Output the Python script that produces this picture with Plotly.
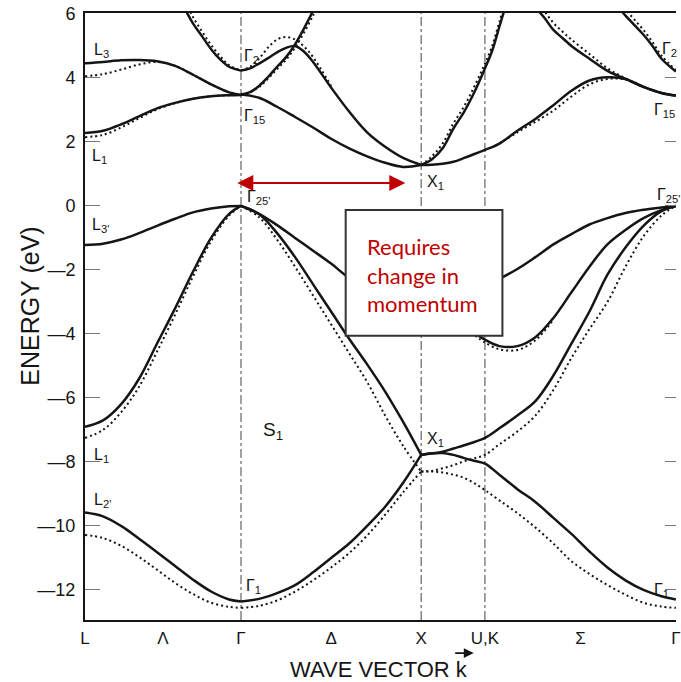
import plotly.graph_objects as go

# ---- path through the Brillouin zone: L - Γ - X - U,K - Γ  (units of 2π/a) ----
k_sym = [0.0, 0.866, 1.866, 2.220, 3.280]          # L, Γ, X, U/K, Γ
tick_k = [0.0, 0.433, 0.866, 1.366, 1.866, 2.220, 2.750, 3.280]
tick_text = ["L", "Λ", "Γ", "Δ", "X", "U,K", "Σ", "Γ"]
energy_ticks = [6, 4, 2, 0, -2, -4, -6, -8, -10, -12]
energy_text = ["6", "4", "2", "0", "—2", "—4", "—6", "—8", "—10", "—12"]

# ---- L -> Γ ----
k_lg = [0.0, 0.1, 0.2, 0.3, 0.4, 0.5, 0.6, 0.7, 0.8, 0.866]
lg_l2_solid = [-9.58, -9.7, -10.0, -10.4, -10.82, -11.25, -11.68, -12.05, -12.3, -12.36]
lg_l2_dotted = [-10.28, -10.38, -10.62, -10.97, -11.37, -11.78, -12.13, -12.4, -12.53, -12.56]
lg_l1v_solid = [-6.9, -6.7, -6.2, -5.4, -4.3, -3.2, -2.05, -1.0, -0.25, 0.0]
lg_l1v_dotted = [-7.25, -7.0, -6.45, -5.65, -4.55, -3.4, -2.2, -1.1, -0.3, 0.0]
lg_l3v_solid = [-1.22, -1.18, -1.05, -0.85, -0.62, -0.4, -0.2, -0.08, -0.01, 0.0]
lg_l1c_solid = [2.28, 2.35, 2.55, 2.8, 3.05, 3.22, 3.35, 3.43, 3.46, 3.47]
lg_l1c_dotted = [2.15, 2.22, 2.45, 2.74, 3.02, 3.21, 3.35, 3.43, 3.46, 3.47]
lg_l3c_solid = [4.46, 4.5, 4.55, 4.56, 4.52, 4.38, 4.1, 3.8, 3.55, 3.47]
lg_l3c_dotted = [4.05, 4.12, 4.26, 4.42, 4.5, 4.38, 4.1, 3.8, 3.55, 3.47]
k_lg_upper = [0.56, 0.6, 0.65, 0.7, 0.75, 0.8, 0.866]
lg_upper_solid = [6.1, 5.7, 5.3, 4.9, 4.58, 4.35, 4.23]
lg_upper_dotted = [6.35, 5.9, 5.45, 5.03, 4.68, 4.4, 4.23]

# ---- Γ -> X ----
k_gx = [0.866, 0.966, 1.066, 1.166, 1.266, 1.366, 1.466, 1.566, 1.666, 1.766, 1.866]
gx_g1_solid = [-12.36, -12.28, -12.1, -11.85, -11.45, -11.0, -10.55, -10.0, -9.4, -8.65, -7.78]
gx_g1_dotted = [-12.56, -12.5, -12.33, -12.05, -11.7, -11.3, -10.85, -10.3, -9.65, -8.95, -8.3]
gx_d2_solid = [0.0, -0.25, -0.85, -1.6, -2.45, -3.3, -4.15, -4.95, -5.8, -6.75, -7.78]
gx_d2_dotted = [0.0, -0.35, -1.05, -1.9, -2.8, -3.7, -4.6, -5.5, -6.55, -7.5, -8.3]
gx_d5_solid = [0.0, -0.25, -0.6, -1.0, -1.4, -1.8, -2.25, -2.55, -2.75, -2.87, -2.9]
gx_d1_solid = [3.48, 3.38, 3.1, 2.78, 2.45, 2.1, 1.8, 1.55, 1.35, 1.22, 1.28]
k_gx_g2 = [0.866, 0.916, 0.966, 1.016, 1.066, 1.116, 1.166, 1.216, 1.266,
           1.366, 1.466, 1.566, 1.666, 1.766, 1.866]
gx_g2_solid = [4.23, 4.3, 4.45, 4.62, 4.8, 4.94, 5.0, 4.82, 4.5, 3.7, 2.95, 2.3, 1.85, 1.5, 1.28]
gx_g2_dotted = [4.23, 4.35, 4.6, 4.95, 5.2, 5.28, 5.2, 4.98, 4.65, 3.75]
k_gx_g15 = [0.866, 0.916, 0.966, 1.016, 1.066, 1.116, 1.166, 1.216, 1.266, 1.3]
gx_g15_solid = [3.48, 3.56, 3.75, 4.03, 4.35, 4.65, 5.05, 5.55, 6.1, 6.5]
gx_g15_dotted = [3.48, 3.55, 3.72, 3.98, 4.28, 4.57, 4.95, 5.42, 5.95, 6.35]

# ---- X -> U,K -> Γ ----
k_xg = [1.866, 1.925, 1.985, 2.045, 2.105, 2.165, 2.22, 2.30, 2.40, 2.50,
        2.60, 2.70, 2.80, 2.90, 3.00, 3.10, 3.20, 3.28]
xg_x1c_solid = [1.28, 1.29, 1.32, 1.38, 1.5, 1.63, 1.75, 1.95, 2.35, 2.72,
                3.15, 3.6, 3.92, 4.02, 3.97, 3.72, 3.53, 3.45]
xg_x1c_dotted = [1.95, 2.3, 2.63, 2.98, 3.42, 3.8, 3.97, 3.95, 3.72, 3.53, 3.45]
k_xg_steep = [1.866, 1.925, 1.985, 2.045, 2.105, 2.165, 2.22, 2.26, 2.30, 2.34]
xg_steep_solid = [1.28, 1.45, 1.8, 2.42, 2.95, 3.6, 4.3, 4.85, 5.6, 6.35]
xg_steep_dotted = [1.28, 1.55, 1.95, 2.58, 3.12, 3.78, 4.45, 5.0, 5.75, 6.5]
k_xg_upper = [2.50, 2.55, 2.60, 2.65, 2.70, 2.80, 2.90, 3.00, 3.10, 3.20, 3.28]
xg_upper_solid = [6.2, 5.88, 5.5, 5.25, 5.0, 4.6, 4.22, 3.97, 3.72, 3.53, 3.45]
xg_upper_dotted = [6.4, 6.08, 5.72, 5.45, 5.2, 4.75, 4.3, 3.99, 3.72, 3.53, 3.45]
k_xg_top = [2.96, 3.00, 3.05, 3.10, 3.15, 3.20, 3.28]
xg_top_solid = [6.2, 5.95, 5.65, 5.35, 5.0, 4.6, 4.2]
xg_top_dotted = [6.45, 6.15, 5.82, 5.5, 5.12, 4.7, 4.25]
xg_x4a_solid = [-2.9, -2.88, -2.83, -2.76, -2.66, -2.55, -2.44, -2.27, -1.97, -1.6,
                -1.2, -0.88, -0.58, -0.38, -0.22, -0.12, -0.05, 0.0]
xg_x4b_solid = [-2.9, -3.05, -3.3, -3.55, -3.78, -3.98, -4.18, -4.38, -4.38, -4.1,
                -3.5, -2.7, -1.9, -1.2, -0.75, -0.38, -0.13, 0.0]
xg_x4b_dotted = [-4.05, -4.27, -4.48, -4.5, -4.2, -3.55]
xg_x1a_solid = [-7.78, -7.74, -7.68, -7.58, -7.48, -7.37, -7.25, -6.95, -6.55, -6.1,
                -5.3, -4.3, -3.3, -2.15, -1.3, -0.62, -0.16, 0.0]
xg_x1a_dotted = [-8.3, -8.28, -8.2, -8.1, -7.98, -7.88, -7.78, -7.45, -7.05, -6.55,
                 -5.75, -4.75, -3.85, -3.0, -1.9, -0.95, -0.3, 0.0]
xg_x1b_solid = [-7.78, -7.73, -7.72, -7.78, -7.88, -7.97, -8.05, -8.4, -8.85, -9.25,
                -9.75, -10.25, -10.8, -11.3, -11.7, -12.0, -12.2, -12.3]
xg_x1b_dotted = [-8.3, -8.3, -8.33, -8.4, -8.5, -8.68, -8.88, -9.2, -9.6, -10.05,
                 -10.55, -11.1, -11.5, -11.85, -12.15, -12.4, -12.52, -12.56]

solid_bands = [
    (k_lg, lg_l2_solid), (k_lg, lg_l1v_solid), (k_lg, lg_l3v_solid),
    (k_lg, lg_l1c_solid), (k_lg, lg_l3c_solid), (k_lg_upper, lg_upper_solid),
    (k_gx, gx_g1_solid), (k_gx, gx_d2_solid), (k_gx, gx_d5_solid),
    (k_gx, gx_d1_solid), (k_gx_g2, gx_g2_solid), (k_gx_g15, gx_g15_solid),
    (k_xg, xg_x1c_solid), (k_xg_steep, xg_steep_solid), (k_xg_upper, xg_upper_solid),
    (k_xg_top, xg_top_solid), (k_xg, xg_x4a_solid), (k_xg, xg_x4b_solid),
    (k_xg, xg_x1a_solid), (k_xg, xg_x1b_solid),
]
dotted_bands = [
    (k_lg, lg_l2_dotted), (k_lg, lg_l1v_dotted), (k_lg, lg_l1c_dotted),
    (k_lg, lg_l3c_dotted), (k_lg_upper, lg_upper_dotted),
    (k_gx, gx_g1_dotted), (k_gx, gx_d2_dotted),
    (k_gx_g2[:len(gx_g2_dotted)], gx_g2_dotted), (k_gx_g15, gx_g15_dotted),
    (k_xg[7:], xg_x1c_dotted), (k_xg_steep, xg_steep_dotted),
    (k_xg_upper, xg_upper_dotted), (k_xg_top, xg_top_dotted),
    (k_xg[5:11], xg_x4b_dotted), (k_xg, xg_x1a_dotted), (k_xg, xg_x1b_dotted),
]

# point labels: (text, k, E, font size)
point_labels = [
    ("L<sub>3</sub>", 0.039, 4.85, 16), ("L<sub>1</sub>", 0.028, 1.53, 16),
    ("Γ<sub>2</sub>", 0.87, 4.66, 16), ("Γ<sub>15</sub>", 0.87, 2.78, 16),
    ("Γ<sub>25'</sub>", 0.886, 0.25, 16), ("L<sub>3'</sub>", 0.028, -0.6, 16),
    ("L<sub>1</sub>", 0.039, -7.81, 16), ("L<sub>2'</sub>", 0.039, -9.19, 16),
    ("S<sub>1</sub>", 0.975, -7.03, 19), ("Γ<sub>1</sub>", 0.88, -11.9, 16),
    ("X<sub>1</sub>", 1.888, 0.72, 16), ("X<sub>1</sub>", 1.888, -7.31, 16),
    ("Γ<sub>2</sub>", 3.192, 4.88, 16), ("Γ<sub>15</sub>", 3.148, 2.97, 16),
    ("Γ<sub>25'</sub>", 3.165, 0.34, 16), ("Γ<sub>1</sub>", 3.148, -12.03, 16),
]

E_MIN, E_MAX = -12.94, 6.03
INK = "#151515"
RED = "#C00000"
TXT = "Liberation Sans, Arial, sans-serif"

fig = go.Figure()

for k, e in solid_bands:
    fig.add_trace(go.Scatter(x=k, y=e, mode="lines", showlegend=False, hoverinfo="skip",
                             line=dict(color=INK, width=2.5, shape="spline", smoothing=1.0)))
for k, e in dotted_bands:
    fig.add_trace(go.Scatter(x=k, y=e, mode="lines", showlegend=False, hoverinfo="skip",
                             line=dict(color=INK, width=2, dash="2px,3px",
                                       shape="spline", smoothing=1.0)))

# carrier trace for the right-hand tick axis
fig.add_trace(go.Scatter(x=[None], y=[None], yaxis="y2", showlegend=False, hoverinfo="skip"))

for ks in k_sym[1:4]:
    fig.add_vline(x=ks, line=dict(color="#444", width=1, dash="dashdot"), layer="below")

for text, k, e, size in point_labels:
    fig.add_annotation(x=k, y=e, text=text, showarrow=False, xanchor="left", yanchor="middle",
                       font=dict(family=TXT, size=size, color=INK))

# indirect-gap arrow and note
fig.add_annotation(x=1.778, y=0.72, ax=0.837, ay=0.72, xref="x", yref="y", axref="x", ayref="y",
                   text="", showarrow=True, arrowside="end+start", arrowhead=2, startarrowhead=2,
                   arrowsize=1.6, startarrowsize=1.6, arrowwidth=2, arrowcolor=RED)
fig.add_shape(type="rect", x0=1.447, x1=2.317, y0=-4.06, y1=-0.125, xref="x", yref="y",
              fillcolor="white", line=dict(color="#333", width=2), layer="above")
fig.add_annotation(x=1.552, y=-2.16, text="Requires<br>change in<br>momentum", showarrow=False,
                   xanchor="left", yanchor="middle", align="left",
                   font=dict(family="Lato, Open Sans, sans-serif", size=22, color=RED))

# axis titles
fig.add_annotation(x=-0.0923, y=0.517, xref="paper", yref="paper", text="ENERGY (eV)",
                   textangle=-90, showarrow=False, xanchor="center", yanchor="middle",
                   font=dict(family=TXT, size=25, color=INK))
fig.add_annotation(x=0.497, y=-0.081, xref="paper", yref="paper", text="WAVE VECTOR k",
                   showarrow=False, xanchor="center", yanchor="middle",
                   font=dict(family=TXT, size=22, color=INK))
# vector arrow drawn over the k
fig.add_annotation(x=0.6577, y=-0.0545, xref="paper", yref="paper", ax=-20, ay=0,
                   text="", showarrow=True, arrowhead=2, arrowsize=1.1, arrowwidth=1.8,
                   arrowcolor=INK)

fig.update_layout(
    width=681, height=682,
    margin=dict(l=85, r=0, t=13, b=62),
    paper_bgcolor="white", plot_bgcolor="white",
    xaxis=dict(range=[k_sym[0], k_sym[-1] + 0.0005], tickvals=tick_k, ticktext=tick_text,
               ticks="", showgrid=False, zeroline=False, showline=True, mirror=True,
               linecolor=INK, linewidth=2, ticklabeloverflow="allow", ticklabelstandoff=2,
               tickfont=dict(family=TXT, size=17, color=INK)),
    yaxis=dict(range=[E_MIN, E_MAX], tickvals=energy_ticks, ticktext=energy_text,
               ticks="inside", ticklen=15, tickwidth=1, tickcolor="#777",
               showgrid=False, zeroline=False, showline=True, linecolor=INK, linewidth=2,
               ticklabelstandoff=4, tickfont=dict(family=TXT, size=18, color=INK)),
    yaxis2=dict(range=[E_MIN, E_MAX], overlaying="y", side="right", tickvals=energy_ticks,
                ticks="inside", ticklen=11, tickwidth=1, tickcolor="#777",
                showticklabels=False, showgrid=False, zeroline=False, showline=False),
)

fig.write_html("out.html")
